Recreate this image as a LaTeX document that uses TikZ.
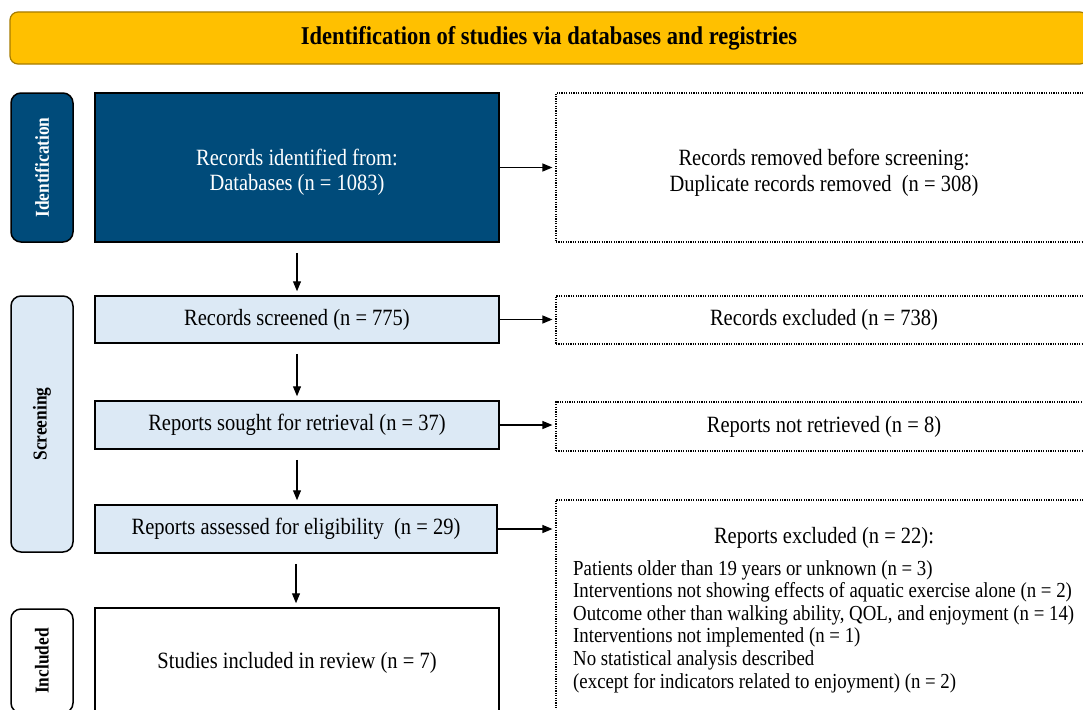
\documentclass[tikz,border=0pt]{standalone}
\usepackage{fontspec}
\setmainfont[FakeStretch=0.88]{Liberation Serif}
\usepackage{tikz}
\usetikzlibrary{arrows.meta}

\definecolor{bannergold}{HTML}{FFC000}
\definecolor{bannerline}{HTML}{A67C00}
\definecolor{idblue}{HTML}{004B7A}
\definecolor{paleblue}{HTML}{DCE9F5}

\begin{document}
\begin{tikzpicture}[x=1pt,y=-1pt,
    every node/.style={font=\fontsize{23.3}{25.5}\selectfont},
    flow/.style={draw=black, line width=1.5pt, minimum width=404pt, align=center, inner sep=0pt},
    phase/.style={draw=black, line width=1.5pt, rounded corners=10pt, rotate=90, minimum height=62pt, font=\bfseries\fontsize{19.7}{22}\selectfont},
    sidenote/.style={draw=black, dash pattern=on 1.2pt off 1.2pt, line width=1.2pt, minimum width=536pt, align=center, inner sep=0pt},
    link/.style={line width=1.2pt, -{Triangle[length=10pt,width=8pt]}}]
    \useasboundingbox (0,0) rectangle (1083,709);
    \clip (0,0) rectangle (1083,709);
    \fill[white] (0,0) rectangle (1083,709);

    % banner
    \node[draw=bannerline, fill=bannergold, line width=1.2pt, rounded corners=8pt, minimum width=1078pt, minimum height=52pt, font=\bfseries\fontsize{25.6}{28}\selectfont] (banner) at (549,38) {Identification of studies via databases and registries};

    % phases
    \node[phase, fill=idblue, text=white, minimum width=149pt] (ident) at (42,167.5) {Identification};
    \node[phase, fill=paleblue, minimum width=256pt] (screen) at (42,424) {Screening};
    \node[phase, fill=white, minimum width=104pt] (incl) at (42,661) {Included};

    % main column
    \node[flow, fill=idblue, text=white, minimum height=149pt, text height=51pt] (found) at (297,167.5) {Records identified from:\\Databases (n = 1083)};
    \node[flow, fill=paleblue, minimum height=47pt] (screened) at (297,319.5) {Records screened (n = 775)};
    \node[flow, fill=paleblue, minimum height=48pt] (sought) at (297,425) {Reports sought for retrieval (n = 37)};
    \node[flow, fill=paleblue, minimum height=48pt, minimum width=402pt] (assessed) at (296,529) {Reports assessed for eligibility \ (n = 29)};
    \node[flow, fill=white, minimum height=110pt] (studies) at (297,663) {Studies included in review (n = 7)};

    % excluded side
    \node[sidenote, minimum height=149pt, text height=53pt, font=\fontsize{23.3}{26.5}\selectfont] (removed) at (824,167.5) {Records removed before screening:\\Duplicate records removed \ (n = 308)};
    \node[sidenote, minimum height=48pt] (excluded) at (824,320) {Records excluded (n = 738)};
    \node[sidenote, minimum height=49pt] (notretr) at (824,426.5) {Reports not retrieved (n = 8)};
    \node[sidenote, minimum height=240pt] (reasons) at (824,620) {};
    \node (reasonshead) at (824,538) {Reports excluded (n = 22):};
    \node[anchor=north west, align=left, inner sep=0pt, font=\fontsize{21.4}{22.6}\selectfont] (reasonslist) at (573,560) {Patients older than 19 years or unknown (n = 3)\\
        Interventions not showing effects of aquatic exercise alone (n = 2)\\
        Outcome other than walking ability, QOL, and enjoyment (n = 14)\\
        Interventions not implemented (n = 1)\\
        No statistical analysis described\\
        (except for indicators related to enjoyment) (n = 2)};

    % arrows
    \draw[link, shorten >=3pt] (found.east |- found) -- (found -| removed.west);
    \draw[link, shorten >=3pt] (screened.east) -- (screened.east -| excluded.west);
    \draw[link, shorten >=3pt] (sought.east) -- (sought.east -| notretr.west);
    \draw[link, shorten >=3pt] (assessed.east) -- (assessed.east -| reasons.west);
    \draw[link, shorten <=10pt, shorten >=4pt] (found) -- (screened);
    \draw[link, shorten <=10pt, shorten >=4pt] (screened) -- (sought);
    \draw[link, shorten <=10pt, shorten >=4pt] (sought.south) -- (assessed.north -| sought.south);
    \draw[link, shorten <=10pt, shorten >=4pt] (assessed) -- (studies.north -| assessed);
\end{tikzpicture}
\end{document}
